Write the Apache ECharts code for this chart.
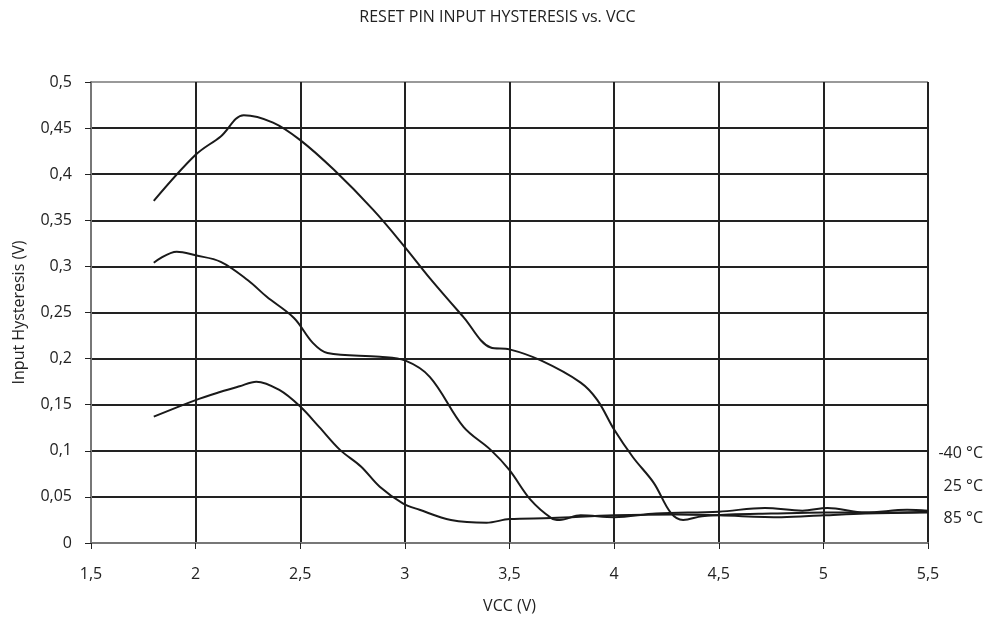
<!DOCTYPE html>
<html>
<head>
<meta charset="utf-8">
<script src="https://cdn.jsdelivr.net/npm/echarts@6/dist/echarts.min.js"></script>
<style>
html, body { margin: 0; padding: 0; background: #fff; }
#chart { width: 995px; height: 617px; }
</style>
</head>
<body>
<div id="chart"></div>
<script>
// -40 °C (top curve)
const vccM40 = [1.8, 2.0, 2.12, 2.23, 2.37, 2.5, 2.66, 2.85, 3.0, 3.12, 3.28, 3.41, 3.5, 3.65, 3.84, 3.92, 4.0, 4.09, 4.19, 4.27, 4.33, 4.42, 4.55, 4.75, 5.0, 5.25, 5.5]
const hysM40 = [0.371, 0.421, 0.441, 0.464, 0.456, 0.437, 0.405, 0.361, 0.321, 0.287, 0.245, 0.212, 0.210, 0.198, 0.174, 0.155, 0.123, 0.093, 0.065, 0.033, 0.025, 0.029, 0.031, 0.032, 0.033, 0.033, 0.034]

// 25 °C (middle curve)
const vcc25 = [1.8, 1.91, 2.0, 2.12, 2.25, 2.34, 2.47, 2.56, 2.63, 2.88, 3.0, 3.12, 3.28, 3.41, 3.5, 3.6, 3.7, 3.74, 3.84, 4.0, 4.2, 4.5, 4.72, 4.9, 5.02, 5.2, 5.4, 5.5]
const hys25 = [0.304, 0.316, 0.312, 0.305, 0.285, 0.267, 0.244, 0.217, 0.206, 0.202, 0.198, 0.180, 0.126, 0.101, 0.079, 0.047, 0.027, 0.025, 0.030, 0.028, 0.032, 0.034, 0.038, 0.035, 0.038, 0.033, 0.036, 0.035]

// 85 °C (bottom curve)
const vcc85 = [1.8, 2.0, 2.12, 2.21, 2.29, 2.4, 2.5, 2.59, 2.69, 2.79, 2.88, 2.99, 3.07, 3.22, 3.39, 3.5, 3.7, 4.0, 4.3, 4.5, 4.8, 5.0, 5.2, 5.5]
const hys85 = [0.137, 0.155, 0.164, 0.170, 0.175, 0.166, 0.148, 0.126, 0.101, 0.083, 0.061, 0.043, 0.036, 0.025, 0.022, 0.026, 0.027, 0.030, 0.031, 0.030, 0.028, 0.030, 0.032, 0.033]

const seriesNames = ['-40 °C', '25 °C', '85 °C']
const xTicks = { min: 1.5, max: 5.5, interval: 0.5 }
const yTicks = { min: 0, max: 0.5, interval: 0.05 }

const font = '"Open Sans", "Noto Sans", sans-serif'
const comma = (v) => String(Math.round(v * 100) / 100).replace('.', ',')
const pairs = (xs, ys) => xs.map((x, i) => [x, ys[i]])

const lineSeries = (name, data) => ({
    name: name,
    type: 'line',
    smooth: 0.35,
    symbol: 'none',
    lineStyle: { color: '#1a1a1a', width: 2 },
    data: data
})

const chart = echarts.init(document.getElementById('chart'), null, { renderer: 'canvas' })
chart.setOption({
    animation: false,
    backgroundColor: '#fff',
    title: {
        text: 'RESET PIN INPUT HYSTERESIS vs. VCC',
        left: 'center',
        top: 4,
        textStyle: { fontFamily: font, fontSize: 16, fontWeight: 'normal', color: '#222' }
    },
    grid: { left: 91, right: 67, top: 82, bottom: 74, outerBoundsMode: 'none' },
    xAxis: {
        type: 'value',
        min: xTicks.min,
        max: xTicks.max,
        interval: xTicks.interval,
        name: 'VCC (V)',
        nameLocation: 'middle',
        nameGap: 55,
        nameTextStyle: { fontFamily: font, fontSize: 16, color: '#222' },
        axisLine: { show: true, onZero: false, lineStyle: { color: '#777', width: 2 } },
        axisTick: { show: true, length: 6, lineStyle: { color: '#222' } },
        axisLabel: { formatter: comma, margin: 23, fontFamily: font, fontSize: 16, color: '#222' },
        splitLine: { show: true, lineStyle: { color: '#222', width: 2 } }
    },
    yAxis: {
        type: 'value',
        min: yTicks.min,
        max: yTicks.max,
        interval: yTicks.interval,
        name: 'Input Hysteresis (V)',
        nameLocation: 'middle',
        nameGap: 64,
        nameTextStyle: { fontFamily: font, fontSize: 16, color: '#222' },
        axisLine: { show: true, lineStyle: { color: '#777', width: 2 } },
        axisTick: { show: true, length: 6, lineStyle: { color: '#222' } },
        axisLabel: { formatter: comma, margin: 19, fontFamily: font, fontSize: 16, color: '#222' },
        splitLine: {
            show: true,
            lineStyle: {
                color: ['#777', '#222', '#222', '#222', '#222', '#222', '#222', '#222', '#222', '#222', '#999'],
                width: 2
            }
        }
    },
    graphic: [
        {
            type: 'line',
            shape: { x1: 928, y1: 82, x2: 928, y2: 543 },
            style: { stroke: '#999', lineWidth: 2 }
        },
        {
            type: 'text',
            right: 12, top: 445,
            style: { text: seriesNames[0], font: '16px ' + font, fill: '#222' }
        },
        {
            type: 'text',
            right: 12, top: 478,
            style: { text: seriesNames[1], font: '16px ' + font, fill: '#222' }
        },
        {
            type: 'text',
            right: 12, top: 510,
            style: { text: seriesNames[2], font: '16px ' + font, fill: '#222' }
        }
    ],
    series: [
        lineSeries(seriesNames[0], pairs(vccM40, hysM40)),
        lineSeries(seriesNames[1], pairs(vcc25, hys25)),
        lineSeries(seriesNames[2], pairs(vcc85, hys85))
    ]
})
</script>
</body>
</html>
